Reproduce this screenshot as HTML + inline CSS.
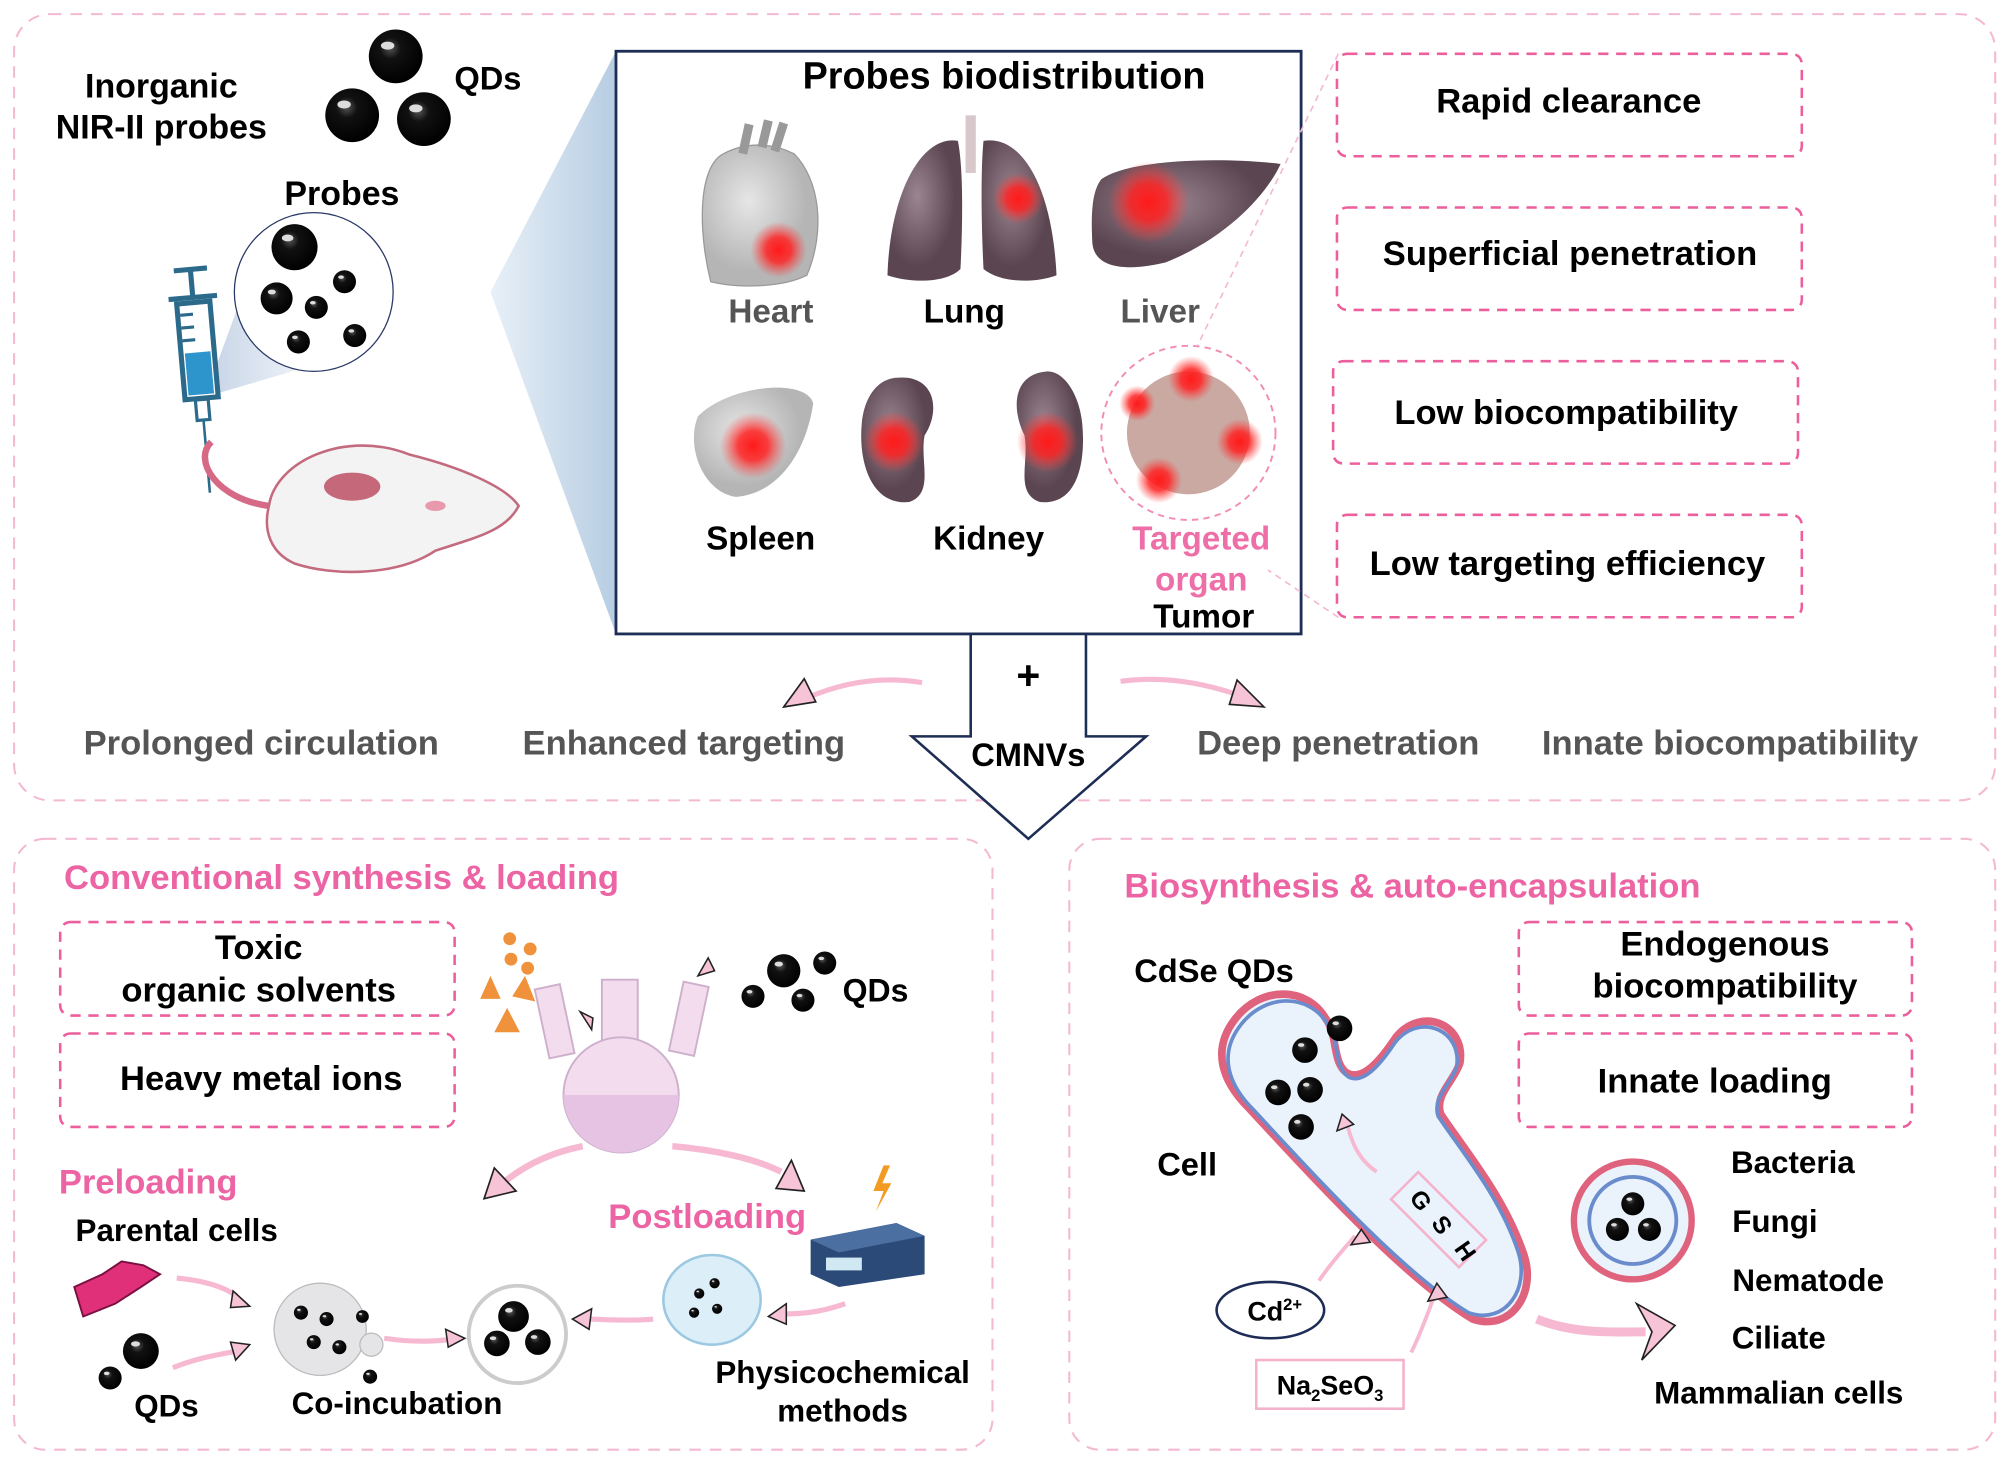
<!DOCTYPE html>
<html><head><meta charset="utf-8"><style>
html,body{margin:0;padding:0;background:#fff}
svg{display:block}
text{font-family:"Liberation Sans",Arial,sans-serif;font-weight:bold}
</style></head><body>
<svg width="2008" height="1462" viewBox="0 0 1568 1141.6" xmlns="http://www.w3.org/2000/svg">
<defs>
<radialGradient id="qd" cx="0.4" cy="0.35" r="0.65"><stop offset="0" stop-color="#555"/><stop offset="0.3" stop-color="#111"/><stop offset="1" stop-color="#000"/></radialGradient>
<radialGradient id="glow"><stop offset="0" stop-color="#ff1a1a"/><stop offset="0.45" stop-color="#f22" stop-opacity="0.85"/><stop offset="1" stop-color="#f44" stop-opacity="0"/></radialGradient>
<linearGradient id="beam" x1="0" x2="1"><stop offset="0" stop-color="#e8f0f8"/><stop offset="1" stop-color="#b7cde2"/></linearGradient>
<linearGradient id="beam2" x1="0" x2="1"><stop offset="0" stop-color="#c5d3e6"/><stop offset="1" stop-color="#eef2f8"/></linearGradient>
<radialGradient id="organ" cx="0.4" cy="0.4"><stop offset="0" stop-color="#9a8590"/><stop offset="1" stop-color="#5a4550"/></radialGradient>
<radialGradient id="grey" cx="0.4" cy="0.4"><stop offset="0" stop-color="#e6e6e6"/><stop offset="1" stop-color="#b5b5b5"/></radialGradient>
<g id="q"><circle r="10" fill="url(#qd)"/><ellipse cx="-3" cy="-4" rx="2.5" ry="1.5" fill="#ddd"/></g>
</defs>

<rect x="11" y="11" width="1547" height="614" rx="28" fill="none" stroke="#f4b9d2" stroke-width="1.6" stroke-dasharray="9,7"/>
<rect x="11" y="655" width="764" height="477" rx="24" fill="none" stroke="#f4b9d2" stroke-width="1.6" stroke-dasharray="9,7"/>
<rect x="835" y="655" width="723" height="477" rx="24" fill="none" stroke="#f4b9d2" stroke-width="1.6" stroke-dasharray="9,7"/>

<text x="126" y="76" font-size="26.5" text-anchor="middle">Inorganic</text>
<text x="126" y="108" font-size="26.5" text-anchor="middle">NIR-II probes</text>
<g transform="translate(309,44) scale(2.1)"><use href="#q"/></g>
<g transform="translate(275,90) scale(2.1)"><use href="#q"/></g>
<g transform="translate(331,93) scale(2.1)"><use href="#q"/></g>
<text x="381" y="70" font-size="25.5" text-anchor="middle">QDs</text>
<text x="267" y="160" font-size="26.5" text-anchor="middle">Probes</text>
<polygon points="160,310 190,228 235,288" fill="url(#beam2)"/>
<circle cx="245" cy="228" r="62" fill="#fff" stroke="#2a3a66" stroke-width="1"/>
<g transform="translate(230,193) scale(1.8)"><use href="#q"/></g>
<use href="#q" transform="translate(216,233) scale(1.25)"/>
<use href="#q" transform="translate(247,240) scale(0.9)"/>
<use href="#q" transform="translate(269,220) scale(0.9)"/>
<use href="#q" transform="translate(233,267) scale(0.9)"/>
<use href="#q" transform="translate(277,262) scale(0.9)"/>
<g stroke="#2c6a8c" stroke-width="4" fill="none" transform="rotate(-5 155 260)">
<line x1="140" y1="210" x2="166" y2="210"/><line x1="153" y1="210" x2="153" y2="232"/>
<line x1="134" y1="232" x2="172" y2="232"/>
<rect x="140" y="236" width="26" height="75" fill="#fff"/>
<rect x="143" y="275" width="20" height="33" fill="#2e94cc" stroke="none"/>
<line x1="142" y1="245" x2="152" y2="245" stroke-width="2.5"/><line x1="142" y1="255" x2="152" y2="255" stroke-width="2.5"/><line x1="142" y1="265" x2="152" y2="265" stroke-width="2.5"/>
<rect x="148" y="312" width="10" height="16" stroke-width="2.5"/>
<line x1="153" y1="328" x2="153" y2="385" stroke-width="2"/>
</g>
<path d="M165,345 C150,360 170,390 210,395" stroke="#d66a86" stroke-width="5" fill="none"/>
<path d="M210,395 C215,360 270,335 320,355 C360,365 395,380 405,395 C395,415 370,420 340,430 C310,450 260,450 230,440 C212,432 205,415 210,395Z" fill="#f3f3f3" stroke="#c46a7e" stroke-width="2"/>
<ellipse cx="275" cy="380" rx="22" ry="11" fill="#c4687a"/>
<ellipse cx="340" cy="395" rx="8" ry="4" fill="#e89aac"/>

<polygon points="383,228 481,40 481,495" fill="url(#beam)"/>
<rect x="481" y="40" width="535" height="455" fill="#fff" stroke="#1e2d55" stroke-width="2.2"/>
<text x="784" y="69" font-size="29.5" text-anchor="middle">Probes biodistribution</text>
<path d="M565,120 C545,130 545,180 555,220 C575,225 610,225 630,215 C645,180 640,140 620,120 C600,110 580,112 565,120Z" fill="url(#grey)" stroke="#999"/>
<path d="M580,120 L585,97 M595,115 L600,94 M605,118 L612,96" stroke="#999" stroke-width="7"/>
<circle cx="608" cy="195" r="22" fill="url(#glow)"/>
<text x="602" y="252" font-size="26" fill="#555" text-anchor="middle">Heart</text>
<path d="M748,110 C720,105 695,150 693,215 C715,222 740,220 750,210 C752,170 752,130 748,110Z" fill="url(#organ)"/>
<path d="M768,110 C800,105 822,150 825,215 C805,222 780,220 768,210 C766,170 766,130 768,110Z" fill="url(#organ)"/>
<rect x="754" y="90" width="8" height="45" fill="#d8c8cc"/>
<circle cx="795" cy="155" r="20" fill="url(#glow)"/>
<text x="753" y="252" font-size="26" text-anchor="middle">Lung</text>
<path d="M860,140 C880,125 950,122 1000,128 C990,150 960,185 910,205 C880,212 855,210 853,190 C852,170 852,150 860,140Z" fill="url(#organ)"/>
<circle cx="897" cy="158" r="32" fill="url(#glow)"/>
<text x="906" y="252" font-size="26" fill="#555" text-anchor="middle">Liver</text>
<path d="M545,325 C570,300 630,295 635,315 C630,350 610,385 575,388 C550,385 535,350 545,325Z" fill="url(#grey)"/>
<circle cx="588" cy="348" r="26" fill="url(#glow)"/>
<text x="594" y="429" font-size="26" text-anchor="middle">Spleen</text>
<path d="M700,295 C730,292 735,320 722,340 C718,360 730,385 710,392 C680,395 670,360 673,330 C675,310 685,296 700,295Z" fill="url(#organ)"/>
<circle cx="698" cy="345" r="24" fill="url(#glow)"/>
<path d="M818,290 C790,292 790,320 800,340 C804,360 792,385 812,392 C842,395 848,360 845,330 C843,310 832,290 818,290Z" fill="url(#organ)"/>
<circle cx="818" cy="345" r="24" fill="url(#glow)"/>
<text x="772" y="429" font-size="26" text-anchor="middle">Kidney</text>
<circle cx="928" cy="338" r="68" fill="none" stroke="#f28cb6" stroke-width="1.5" stroke-dasharray="5,4"/>
<circle cx="928" cy="338" r="48" fill="#c9a9a2"/>
<circle cx="930" cy="296" r="18" fill="url(#glow)"/><circle cx="968" cy="345" r="18" fill="url(#glow)"/><circle cx="905" cy="375" r="18" fill="url(#glow)"/><circle cx="888" cy="315" r="14" fill="url(#glow)"/>
<text x="938" y="429" font-size="26" fill="#ee6fa8" text-anchor="middle">Targeted</text>
<text x="938" y="461" font-size="26" fill="#ee6fa8" text-anchor="middle">organ</text>
<text x="940" y="490" font-size="26" text-anchor="middle">Tumor</text>
<line x1="1045" y1="42" x2="935" y2="270" stroke="#f4b9d2" stroke-width="1.3" stroke-dasharray="5,4"/>
<line x1="1045" y1="482" x2="990" y2="445" stroke="#f4b9d2" stroke-width="1.3" stroke-dasharray="5,4"/>

<g fill="#fff" stroke="#ec5f9c" stroke-width="2" stroke-dasharray="8,6">
<rect x="1044" y="42" width="363" height="80" rx="8"/>
<rect x="1044" y="162" width="363" height="80" rx="8"/>
<rect x="1041" y="282" width="363" height="80" rx="8"/>
<rect x="1044" y="402" width="363" height="80" rx="8"/>
<rect x="47" y="720" width="308" height="73" rx="8"/>
<rect x="47" y="807" width="308" height="73" rx="8"/>
<rect x="1186" y="720" width="307" height="73" rx="8"/>
<rect x="1186" y="807" width="307" height="73" rx="8"/>
</g>
<g font-size="27" text-anchor="middle">
<text x="1225" y="88">Rapid clearance</text>
<text x="1226" y="207">Superficial penetration</text>
<text x="1223" y="331">Low biocompatibility</text>
<text x="1224" y="449">Low targeting efficiency</text>
<text x="202" y="749">Toxic</text>
<text x="202" y="782">organic solvents</text>
<text x="204" y="851">Heavy metal ions</text>
<text x="1347" y="746">Endogenous</text>
<text x="1347" y="779">biocompatibility</text>
<text x="1339" y="853">Innate loading</text>
</g>

<path d="M758,495 L848,495 L848,575 L895,575 L803,655 L712,575 L758,575Z" fill="#fff" stroke="#1e2d55" stroke-width="2"/>
<text x="803" y="538" font-size="32" text-anchor="middle">+</text>
<text x="803" y="598" font-size="25.5" text-anchor="middle">CMNVs</text>
<path d="M720,533 C690,528 660,532 630,545" stroke="#f6b9d1" stroke-width="4" fill="none"/>
<path d="M612,552 L628,530 L637,548Z" fill="#f7c3d6" stroke="#222" stroke-width="1.3"/>
<path d="M875,532 C905,528 935,532 965,542" stroke="#f6b9d1" stroke-width="4" fill="none"/>
<path d="M987,552 L966,531 L960,550Z" fill="#f7c3d6" stroke="#222" stroke-width="1.3"/>
<g font-size="27" fill="#555" text-anchor="middle">
<text x="204" y="589">Prolonged circulation</text>
<text x="534" y="589">Enhanced targeting</text>
<text x="1045" y="589">Deep penetration</text>
<text x="1351" y="589">Innate biocompatibility</text>
</g>

<text x="50" y="694" font-size="27" fill="#ec64a4">Conventional synthesis &amp; loading</text>
<g fill="#f0923c"><circle cx="398" cy="733" r="5"/><circle cx="414" cy="741" r="5"/><circle cx="399" cy="749" r="5"/><circle cx="412" cy="756" r="5"/>
<polygon points="383,762 375,780 391,780"/><polygon points="410,762 400,778 418,782"/><polygon points="396,787 386,806 406,806"/></g>
<g fill="#f2dcee" stroke="#cdb0cc" stroke-width="1.5">
<rect x="470" y="765" width="28" height="60"/>
<rect x="423" y="770" width="20" height="55" transform="rotate(-12 433 797)"/>
<rect x="528" y="768" width="20" height="55" transform="rotate(12 538 795)"/>
<circle cx="485" cy="855" r="45"/></g>
<path d="M440,855 A45,45 0 0 0 530,855Z" fill="#e6c3e2"/>
<path d="M463,795 L453,790 L462,804Z" fill="#f7c3d6" stroke="#222" stroke-width="1.2"/>
<path d="M553,748 L545,762 L558,758Z" fill="#f7c3d6" stroke="#222" stroke-width="1.2"/>
<use href="#q" transform="translate(612,758) scale(1.3)"/><use href="#q" transform="translate(644,752) scale(0.9)"/><use href="#q" transform="translate(588,778) scale(0.9)"/><use href="#q" transform="translate(627,781) scale(0.9)"/>
<text x="658" y="782" font-size="25">QDs</text>
<path d="M455,895 C430,900 410,910 395,922" stroke="#f6b9d1" stroke-width="5" fill="none"/>
<path d="M378,936 L386,912 L403,930Z" fill="#f7c3d6" stroke="#222" stroke-width="1.3"/>
<path d="M525,895 C560,898 590,905 610,915" stroke="#f6b9d1" stroke-width="5" fill="none"/>
<path d="M628,930 L606,928 L618,906Z" fill="#f7c3d6" stroke="#222" stroke-width="1.3"/>
<text x="46" y="932" font-size="27" fill="#ec64a4">Preloading</text>
<text x="475" y="959" font-size="27" fill="#ec64a4">Postloading</text>
<text x="59" y="969" font-size="24.5">Parental cells</text>
<path d="M58,1005 L80,995 L95,985 L112,988 L125,995 L110,1005 L90,1018 L65,1028Z" fill="#e0307a" stroke="#7a1040" stroke-width="1.5"/>
<use href="#q" transform="translate(110,1055) scale(1.4)"/><use href="#q" transform="translate(86,1076) scale(0.9)"/>
<text x="130" y="1106" font-size="24.5" text-anchor="middle">QDs</text>
<path d="M138,998 C160,1000 175,1005 185,1012" stroke="#f6b9d1" stroke-width="4" fill="none"/>
<path d="M195,1020 L182,1008 L180,1021Z" fill="#f7c3d6" stroke="#222" stroke-width="1.2"/>
<path d="M135,1068 C155,1060 170,1058 185,1055" stroke="#f6b9d1" stroke-width="4" fill="none"/>
<path d="M195,1050 L180,1048 L184,1062Z" fill="#f7c3d6" stroke="#222" stroke-width="1.2"/>
<circle cx="250" cy="1038" r="36" fill="#e5e5e8" stroke="#bbb"/>
<circle cx="290" cy="1050" r="9" fill="#e5e5e8" stroke="#bbb"/>
<use href="#q" transform="translate(235,1025) scale(0.55)"/><use href="#q" transform="translate(255,1030) scale(0.55)"/><use href="#q" transform="translate(245,1048) scale(0.55)"/><use href="#q" transform="translate(265,1052) scale(0.55)"/><use href="#q" transform="translate(283,1028) scale(0.5)"/><use href="#q" transform="translate(289,1075) scale(0.55)"/>
<text x="310" y="1104" font-size="24.5" text-anchor="middle">Co-incubation</text>
<path d="M300,1045 C320,1048 335,1048 350,1046" stroke="#f6b9d1" stroke-width="4" fill="none"/>
<path d="M363,1045 L348,1038 L350,1052Z" fill="#f7c3d6" stroke="#222" stroke-width="1.2"/>
<circle cx="404" cy="1042" r="38" fill="#fff" stroke="#ccc" stroke-width="3"/>
<use href="#q" transform="translate(401,1028) scale(1.2)"/><use href="#q" transform="translate(388,1049) scale(1)"/><use href="#q" transform="translate(420,1048) scale(1)"/>
<path d="M510,1030 C490,1032 470,1030 458,1030" stroke="#f6b9d1" stroke-width="4" fill="none"/>
<path d="M447,1030 L462,1022 L460,1038Z" fill="#f7c3d6" stroke="#222" stroke-width="1.2"/>
<ellipse cx="556" cy="1015" rx="38" ry="35" fill="#dceef8" stroke="#9cc8e2" stroke-width="2"/>
<use href="#q" transform="translate(546,1010) scale(0.4)"/><use href="#q" transform="translate(558,1002) scale(0.4)"/><use href="#q" transform="translate(560,1022) scale(0.4)"/><use href="#q" transform="translate(542,1025) scale(0.4)"/>
<path d="M660,1018 C640,1025 625,1026 612,1026" stroke="#f6b9d1" stroke-width="4" fill="none"/>
<path d="M600,1028 L614,1018 L614,1034Z" fill="#f7c3d6" stroke="#222" stroke-width="1.2"/>
<path d="M633,968 L700,955 L722,965 L722,995 L655,1005 L633,995Z" fill="#2b4a78"/>
<path d="M633,968 L700,955 L722,965 L655,978Z" fill="#4a6fa0"/>
<rect x="645" y="982" width="28" height="10" fill="#cfe8f2"/>
<polygon points="690,910 682,930 690,930 684,946 696,924 689,924 695,910" fill="#f29a22"/>
<text x="658" y="1080" font-size="24.5" text-anchor="middle">Physicochemical</text>
<text x="658" y="1110" font-size="24.5" text-anchor="middle">methods</text>

<text x="878" y="701" font-size="27" fill="#ec64a4">Biosynthesis &amp; auto-encapsulation</text>
<text x="948" y="767" font-size="25.5" text-anchor="middle">CdSe QDs</text>
<text x="927" y="918" font-size="25.5" text-anchor="middle">Cell</text>
<path d="M1200,1030 C1230,1042 1260,1040 1285,1040" stroke="#f6b9d1" stroke-width="7" fill="none"/>
<path d="M1278,1018 L1308,1035 L1282,1062 L1290,1040Z" fill="#f7c3d6" stroke="#222" stroke-width="1.3"/>
<path d="M965,795 C985,770 1020,770 1035,795 C1045,808 1040,830 1052,838 C1065,845 1080,825 1090,810 C1110,785 1145,800 1140,830 C1135,845 1120,855 1125,870 C1145,900 1175,935 1190,980 C1200,1010 1180,1040 1150,1030 C1100,1000 1035,930 975,865 C955,845 945,820 965,795Z" fill="#eaf3fb" stroke="#e0637e" stroke-width="6"/>
<path d="M965,795 C985,770 1020,770 1035,795 C1045,808 1040,830 1052,838 C1065,845 1080,825 1090,810 C1110,785 1145,800 1140,830 C1135,845 1120,855 1125,870 C1145,900 1175,935 1190,980 C1200,1010 1180,1040 1150,1030 C1100,1000 1035,930 975,865 C955,845 945,820 965,795Z" fill="none" stroke="#6b8ccc" stroke-width="3" transform="translate(1075 910) scale(0.96) translate(-1075 -910)"/>
<use href="#q" transform="translate(1046,803) scale(1)"/><use href="#q" transform="translate(1019,820) scale(1)"/><use href="#q" transform="translate(998,853) scale(1)"/><use href="#q" transform="translate(1023,851) scale(1)"/><use href="#q" transform="translate(1016,880) scale(1)"/>
<path d="M1075,915 C1060,905 1055,890 1052,878" stroke="#f6b9d1" stroke-width="3" fill="none"/>
<path d="M1048,870 L1044,883 L1057,878Z" fill="#f7c3d6" stroke="#222" stroke-width="1.2"/>
<rect x="1108" y="915" width="30" height="75" fill="none" stroke="#f4b2cc" stroke-width="2" transform="rotate(-45 1123 952)"/>
<text font-size="19" transform="translate(1100,935) rotate(55)">G</text>
<text font-size="19" transform="translate(1117,955) rotate(55)">S</text>
<text font-size="19" transform="translate(1135,975) rotate(55)">H</text>
<path d="M1030,1000 C1040,985 1050,975 1058,965" stroke="#f6b9d1" stroke-width="3" fill="none"/>
<path d="M1063,960 L1055,972 L1070,970Z" fill="#f7c3d6" stroke="#222" stroke-width="1.2"/>
<path d="M1102,1056 C1110,1040 1115,1025 1120,1012" stroke="#f6b9d1" stroke-width="3" fill="none"/>
<path d="M1122,1002 L1115,1016 L1130,1013Z" fill="#f7c3d6" stroke="#222" stroke-width="1.2"/>
<ellipse cx="992" cy="1023" rx="42" ry="22" fill="#fff" stroke="#1e2d55" stroke-width="2"/>
<text x="974" y="1031" font-size="21">Cd<tspan font-size="13" dy="-8">2+</tspan></text>
<rect x="981" y="1062" width="115" height="38" fill="#fff" stroke="#f4b2cc" stroke-width="2"/>
<text x="997" y="1089" font-size="21">Na<tspan font-size="13" dy="5">2</tspan><tspan dy="-5">SeO</tspan><tspan font-size="13" dy="5">3</tspan></text>
<circle cx="1275" cy="953" r="46" fill="#eaf3fb" stroke="#e0637e" stroke-width="5"/>
<circle cx="1275" cy="953" r="34" fill="none" stroke="#6b8ccc" stroke-width="3"/>
<use href="#q" transform="translate(1275,940) scale(0.9)"/><use href="#q" transform="translate(1263,960) scale(0.9)"/><use href="#q" transform="translate(1288,960) scale(0.9)"/>
<g font-size="24.5" text-anchor="middle">
<text x="1400" y="916">Bacteria</text>
<text x="1386" y="962">Fungi</text>
<text x="1412" y="1008">Nematode</text>
<text x="1389" y="1053">Ciliate</text>
<text x="1389" y="1096">Mammalian cells</text>
</g>
</svg>
</body></html>
